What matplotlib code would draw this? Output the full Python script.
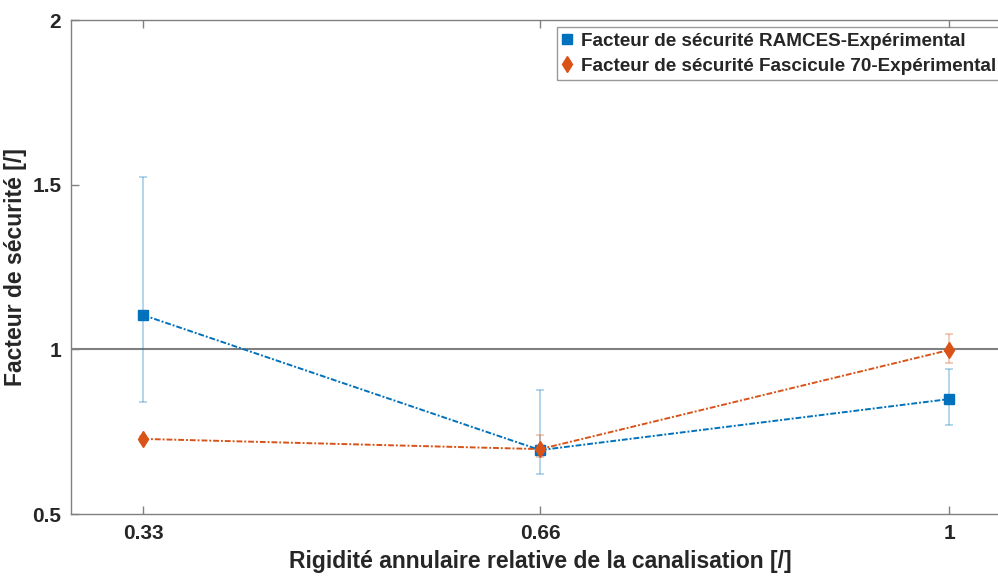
import numpy as np
import matplotlib
matplotlib.use('Agg')
import matplotlib.pyplot as plt

plt.rcParams['font.family'] = ['Liberation Sans', 'DejaVu Sans']
plt.rcParams['font.weight'] = 'bold'

rigidite = [0.33, 0.66, 1.0]
fs_ramces = [1.104, 0.694, 0.849]
ramces_err_low = [0.264, 0.073, 0.079]
ramces_err_high = [0.419, 0.183, 0.091]
fs_fasc70 = [0.728, 0.697, 0.998]
fasc70_err_low = [0.008, 0.024, 0.039]
fasc70_err_high = [0.008, 0.043, 0.049]
x_ticks = [0.33, 0.66, 1]
x_ticklabels = ['0.33', '0.66', '1']
y_ticks = [0.5, 1, 1.5, 2]
y_ticklabels = ['0.5', '1', '1.5', '2']

blue, orange = '#0072BD', '#D95319'
ls = (0, (3, 1, 1, 1))

fig = plt.figure(figsize=(9.98, 5.77), dpi=100)
xmin, xmax = 0.27, 1.05
ax = fig.add_axes([71 / 998, 63 / 577, (xmax - xmin) * 1203 / 998, 494 / 577])

ax.axhline(1, color='#808080', lw=1.5, zorder=1)

ax.errorbar(rigidite, fs_ramces, yerr=[ramces_err_low, ramces_err_high], fmt='none',
            ecolor=blue, alpha=0.35, elinewidth=1.2, capsize=3, capthick=1.2, zorder=2)
ax.errorbar(rigidite, fs_fasc70, yerr=[fasc70_err_low, fasc70_err_high], fmt='none',
            ecolor=orange, alpha=0.35, elinewidth=1.2, capsize=3, capthick=1.2, zorder=2)
ax.plot(rigidite, fs_ramces, color=blue, ls=ls, lw=1.4, marker='s', ms=7,
        label='Facteur de sécurité RAMCES-Expérimental', zorder=3)
ax.plot(rigidite, fs_fasc70, color=orange, ls=ls, lw=1.4, marker='d', ms=8,
        label='Facteur de sécurité Fascicule 70-Expérimental', zorder=3)

ax.set_xlim(xmin, xmax)
ax.set_ylim(0.5, 2)
ax.set_xticks(x_ticks)
ax.set_xticklabels(x_ticklabels)
ax.set_yticks(y_ticks)
ax.set_yticklabels(y_ticklabels)
ax.tick_params(direction='in', length=6, width=1, color='#808080', labelsize=15,
               labelcolor='#262626', top=True, right=True, pad=7)
for s in ax.spines.values():
    s.set_color('#808080')
    s.set_linewidth(1)

ax.set_xlabel('Rigidité annulaire relative de la canalisation [/]', fontsize=16.5,
              fontweight='bold', color='#262626', labelpad=5)
ax.set_ylabel('Facteur de sécurité [/]', fontsize=16.5, fontweight='bold',
              color='#262626', labelpad=4)

leg = ax.legend(loc='upper left', bbox_to_anchor=(557 / 998, 1 - 27 / 577),
                bbox_transform=fig.transFigure, fontsize=13.6, frameon=True,
                fancybox=False, edgecolor='#808080', handlelength=0.5,
                handletextpad=0.45, borderpad=0.3, labelspacing=0.4,
                borderaxespad=0)
for h in leg.get_lines():
    h.set_linestyle('none')
for t in leg.get_texts():
    t.set_color('#262626')

fig.savefig('out.png', dpi=100)
